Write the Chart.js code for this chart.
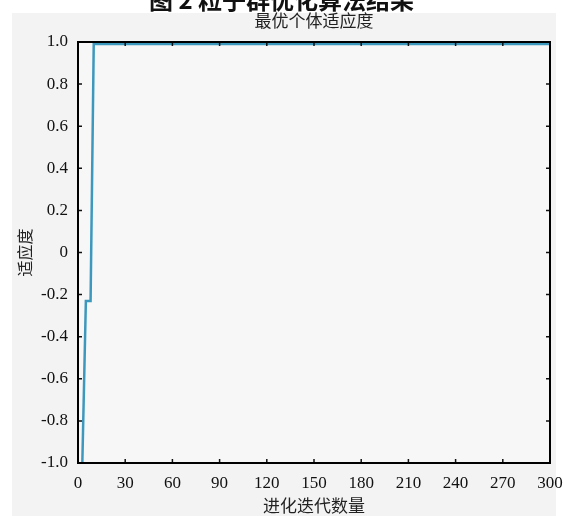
<!DOCTYPE html>
<html><head><meta charset="utf-8">
<script src="https://cdn.jsdelivr.net/npm/chart.js@4/dist/chart.umd.min.js"></script>
<style>
html,body{margin:0;padding:0;background:#fff;width:563px;height:516px;overflow:hidden;}
#wrap{position:absolute;left:0;top:0;width:563px;height:516px;}
#fig{position:absolute;left:0;width:563px;top:-14px;text-align:center;font:bold 24px "Noto Sans CJK SC",sans-serif;line-height:26px;color:#111;z-index:2;}
</style></head>
<body>
<div id="fig">图 2 粒子群优化算法结果</div>
<div id="wrap"><canvas id="c" width="563" height="516"></canvas></div>
<script>
const iterations = [1, 5, 8, 10, 300];
const fitness = [-1.6, -0.23, -0.23, 0.99, 0.99];
const xTicks = [0, 30, 60, 90, 120, 150, 180, 210, 240, 270, 300];
const yTicks = [-1.0, -0.8, -0.6, -0.4, -0.2, 0, 0.2, 0.4, 0.6, 0.8, 1.0];
const chartTitle = '最优个体适应度';
const xTitle = '进化迭代数量';
const yTitle = '适应度';

const serif = '"Liberation Serif","DejaVu Serif",serif';
const cjk = '"Noto Sans CJK SC",sans-serif';

const bgPlugin = {
  id: 'bg',
  beforeDraw(chart) {
    const ctx = chart.ctx, a = chart.chartArea;
    ctx.save();
    ctx.fillStyle = '#f3f3f3';
    ctx.fillRect(12, 13, 544, 503);
    ctx.fillStyle = '#f7f7f7';
    ctx.fillRect(a.left, a.top, a.right - a.left, a.bottom - a.top);
    ctx.restore();
  },
  afterDraw(chart) {
    const ctx = chart.ctx, a = chart.chartArea;
    const xs = chart.scales.x, ys = chart.scales.y;
    ctx.save();
    ctx.strokeStyle = '#111';
    ctx.lineWidth = 1.5;
    const L = 4;
    ctx.beginPath();
    xs.ticks.forEach(t => {
      const px = xs.getPixelForValue(t.value);
      ctx.moveTo(px, a.bottom); ctx.lineTo(px, a.bottom - L);
      ctx.moveTo(px, a.top); ctx.lineTo(px, a.top + L);
    });
    ys.ticks.forEach(t => {
      const py = ys.getPixelForValue(t.value);
      ctx.moveTo(a.left, py); ctx.lineTo(a.left + L, py);
      ctx.moveTo(a.right, py); ctx.lineTo(a.right - L, py);
    });
    ctx.stroke();
    ctx.lineWidth = 2;
    ctx.strokeStyle = '#000';
    ctx.strokeRect(a.left, a.top, a.right - a.left, a.bottom - a.top);
    // chart title centred over the plot area
    ctx.fillStyle = '#222';
    ctx.font = '17px ' + cjk;
    ctx.textAlign = 'center';
    ctx.textBaseline = 'middle';
    ctx.fillText(chartTitle, (a.left + a.right) / 2, 21);
    ctx.restore();
  }
};

new Chart(document.getElementById('c'), {
  type: 'line',
  data: {
    datasets: [{
      data: iterations.map((x, i) => ({x: x, y: fitness[i]})),
      borderColor: '#3d98bd',
      borderWidth: 2.5,
      pointRadius: 0,
      tension: 0,
      fill: false
    }]
  },
  options: {
    responsive: false,
    animation: false,
    layout: {padding: {left: 12, right: 13, top: 42, bottom: 0}},
    plugins: {
      legend: {display: false},
      tooltip: {enabled: false},
      title: {display: false}
    },
    scales: {
      x: {
        type: 'linear', min: 0, max: 300,
        afterBuildTicks(s) { s.ticks = xTicks.map(v => ({value: v})); },
        afterFit(s) { s.height = 53; s.paddingLeft = 0; s.paddingRight = 0; },
        grid: {drawOnChartArea: false, drawTicks: false},
        border: {display: false},
        ticks: {color: '#111', font: {family: serif, size: 17}, padding: 10, maxRotation: 0,
          callback: v => String(v)},
        title: {display: true, text: xTitle, color: '#222', font: {family: cjk, size: 17},
          padding: {top: 2, bottom: 0}}
      },
      y: {
        type: 'linear', min: -1, max: 1,
        afterBuildTicks(s) { s.ticks = yTicks.map(v => ({value: v})); },
        afterFit(s) { s.width = 66; s.paddingTop = 0; s.paddingBottom = 0; },
        grid: {drawOnChartArea: false, drawTicks: false},
        border: {display: false},
        ticks: {color: '#111', font: {family: serif, size: 17}, padding: 10,
          callback: v => Math.abs(v) < 1e-9 ? '0' : Number(v).toFixed(1)},
        title: {display: true, text: yTitle, color: '#222', font: {family: cjk, size: 16},
          padding: {top: 3, bottom: 0}}
      }
    }
  },
  plugins: [bgPlugin]
});
</script>
</body></html>
